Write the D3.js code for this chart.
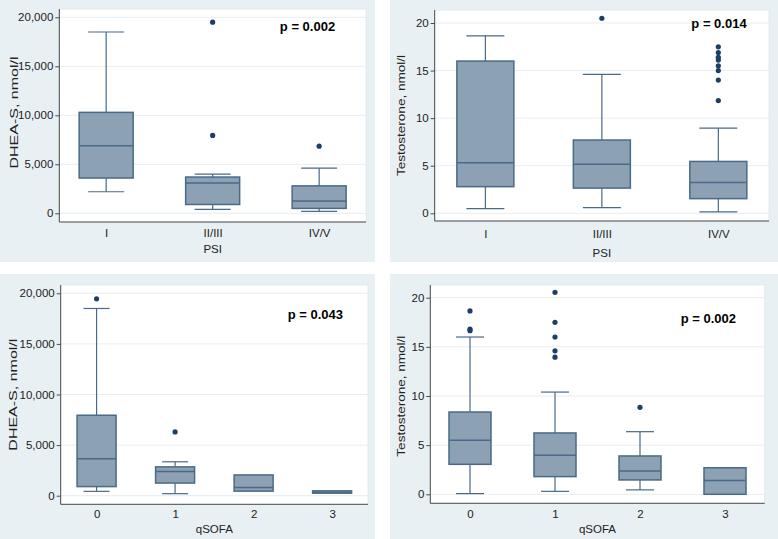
<!DOCTYPE html>
<html>
<head>
<meta charset="utf-8">
<script src="https://cdn.jsdelivr.net/npm/d3@7"></script>
<style>
  html, body { margin: 0; padding: 0; background: #ffffff; }
  svg { display: block; font-family: "Liberation Sans", Arial, Helvetica, sans-serif; }
</style>
</head>
<body>
<svg id="chart" width="778" height="539"></svg>
<script>
// ---------- DATA ----------
const psiCategories = ["I", "II/III", "IV/V"];
const qsofaCategories = ["0", "1", "2", "3"];

const dheaTicks = [0, 5000, 10000, 15000, 20000];
const testoTicks = [0, 5, 10, 15, 20];

// Panel A: DHEA-S by PSI
const dheaPsiLow    = [2200, 400, 200];
const dheaPsiQ1     = [3600, 900, 500];
const dheaPsiMedian = [6900, 3100, 1250];
const dheaPsiQ3     = [10300, 3700, 2800];
const dheaPsiHigh   = [18500, 4000, 4600];
const dheaPsiOutliers = [[], [19500, 7950], [6850]];

// Panel B: Testosterone by PSI
const testoPsiLow    = [0.5, 0.6, 0.14];
const testoPsiQ1     = [2.8, 2.65, 1.54];
const testoPsiMedian = [5.3, 5.15, 3.25];
const testoPsiQ3     = [16.0, 7.7, 5.45];
const testoPsiHigh   = [18.65, 14.6, 8.95];
const testoPsiOutliers = [[], [20.5], [17.5, 16.9, 16.4, 16.1, 15.5, 15.0, 14.0, 11.85]];

// Panel C: DHEA-S by qSOFA
const dheaQsofaLow    = [430, 200, 450, 250];
const dheaQsofaQ1     = [900, 1250, 450, 250];
const dheaQsofaMedian = [3650, 2400, 800, 350];
const dheaQsofaQ3     = [7950, 2850, 2050, 480];
const dheaQsofaHigh   = [18500, 3350, 2050, 480];
const dheaQsofaOutliers = [[19450], [6300], [], []];

// Panel D: Testosterone by qSOFA
const testoQsofaLow    = [0.07, 0.3, 0.45, 0.0];
const testoQsofaQ1     = [3.05, 1.8, 1.46, 0.0];
const testoQsofaMedian = [5.5, 3.97, 2.37, 1.4];
const testoQsofaQ3     = [8.37, 6.24, 3.9, 2.7];
const testoQsofaHigh   = [16.0, 10.4, 6.37, 2.7];
const testoQsofaOutliers = [[18.65, 16.8, 16.65], [20.55, 17.5, 16.0, 14.6, 13.95], [8.85], []];

const pValues = ["p = 0.002", "p = 0.014", "p = 0.043", "p = 0.002"];

// ---------- STYLE ----------
const panelBg = "#e9f0f3";
const boxFill = "#8ca1b3";
const boxStroke = "#4a6a87";
const dotColor = "#1e3f63";
const gridColor = "#e8edf1";
const axisColor = "#4a4a4a";
const textColor = "#222";
const fontSize = 11.5;

const svg = d3.select("#chart");

function build(cats, low, q1, med, q3, high, outs) {
  return cats.map((c, i) => ({ cat: c, low: low[i], q1: q1[i], med: med[i], q3: q3[i], high: high[i], outs: outs[i] }));
}

const panels = [
  {
    bg: [0, 0, 375, 262],
    plot: { x0: 59.3, x1: 366, top: 9, bottom: 222 },
    yRange: [213.3, 17.3], yMax: 20000, ticks: dheaTicks, fmt: d3.format(","),
    pad: 0.44, boxW: 54,
    rows: build(psiCategories, dheaPsiLow, dheaPsiQ1, dheaPsiMedian, dheaPsiQ3, dheaPsiHigh, dheaPsiOutliers),
    yTitle: "DHEA-S, nmol/l", yTitleX: 14, yTitleLen: 112, yTitleShift: -3, xTitle: "PSI", xTitleY: 253, xLabelPad: 7,
    p: pValues[0], pX: 307.5, pY: 31
  },
  {
    bg: [390, 0, 778, 262],
    plot: { x0: 434.7, x1: 769, top: 10, bottom: 221 },
    yRange: [213.3, 23], yMax: 20, ticks: testoTicks, fmt: d3.format("d"),
    pad: 0.435, boxW: 57,
    rows: build(psiCategories, testoPsiLow, testoPsiQ1, testoPsiMedian, testoPsiQ3, testoPsiHigh, testoPsiOutliers),
    yTitle: "Testosterone, nmol/l", yTitleX: 401, yTitleLen: 121, yTitleShift: 0, xTitle: "PSI", xTitleY: 256.5, xLabelPad: 9,
    p: pValues[1], pX: 719, pY: 27.5
  },
  {
    bg: [0, 274, 375, 539],
    plot: { x0: 60.7, x1: 368, top: 285, bottom: 504.3 },
    yRange: [495.7, 293.3], yMax: 20000, ticks: dheaTicks, fmt: d3.format(","),
    pad: 0.457, boxW: 39,
    rows: build(qsofaCategories, dheaQsofaLow, dheaQsofaQ1, dheaQsofaMedian, dheaQsofaQ3, dheaQsofaHigh, dheaQsofaOutliers),
    yTitle: "DHEA-S, nmol/l", yTitleX: 13, yTitleLen: 112, yTitleShift: 0, xTitle: "qSOFA", xTitleY: 533, xLabelPad: 5.5,
    p: pValues[2], pX: 315.3, pY: 319
  },
  {
    bg: [390, 274, 778, 539],
    plot: { x0: 430.3, x1: 764.7, top: 285, bottom: 503.3 },
    yRange: [494.3, 297.7], yMax: 20, ticks: testoTicks, fmt: d3.format("d"),
    pad: 0.467, boxW: 42,
    rows: build(qsofaCategories, testoQsofaLow, testoQsofaQ1, testoQsofaMedian, testoQsofaQ3, testoQsofaHigh, testoQsofaOutliers),
    yTitle: "Testosterone, nmol/l", yTitleX: 401, yTitleLen: 121, yTitleShift: 2, xTitle: "qSOFA", xTitleY: 533, xLabelPad: 6.5,
    p: pValues[3], pX: 708.3, pY: 322.7
  }
];

panels.forEach(P => {
  const g = svg.append("g");
  const pl = P.plot;

  // panel background
  g.append("rect")
    .attr("x", P.bg[0]).attr("y", P.bg[1])
    .attr("width", P.bg[2] - P.bg[0]).attr("height", P.bg[3] - P.bg[1])
    .attr("fill", panelBg);

  // plot region
  g.append("rect")
    .attr("x", pl.x0).attr("y", pl.top)
    .attr("width", pl.x1 - pl.x0).attr("height", pl.bottom - pl.top)
    .attr("fill", "#ffffff")
    .attr("stroke", "#dfe6ea").attr("stroke-width", 0.8);

  const y = d3.scaleLinear().domain([0, P.yMax]).range(P.yRange);
  const x = d3.scalePoint().domain(P.rows.map(d => d.cat)).range([pl.x0, pl.x1]).padding(P.pad);

  // gridlines
  g.append("g").selectAll("line").data(P.ticks).join("line")
    .attr("x1", pl.x0).attr("x2", pl.x1)
    .attr("y1", d => y(d)).attr("y2", d => y(d))
    .attr("stroke", gridColor).attr("stroke-width", 1);

  // y axis
  const yAxis = g.append("g")
    .attr("transform", `translate(${pl.x0},0)`)
    .call(d3.axisLeft(y).tickValues(P.ticks).tickFormat(P.fmt).tickSize(4).tickPadding(2));
  yAxis.select(".domain").remove();
  yAxis.selectAll(".tick line").attr("stroke", axisColor);
  yAxis.selectAll(".tick text").attr("fill", textColor).attr("font-size", fontSize).attr("font-family", null);

  // x axis
  const xAxis = g.append("g")
    .attr("transform", `translate(0,${pl.bottom})`)
    .call(d3.axisBottom(x).tickSize(0).tickPadding(P.xLabelPad));
  xAxis.select(".domain").remove();
  xAxis.selectAll(".tick text").attr("fill", textColor).attr("font-size", fontSize).attr("font-family", null);

  // axis lines
  g.append("line").attr("x1", pl.x0).attr("x2", pl.x0).attr("y1", pl.top).attr("y2", pl.bottom)
    .attr("stroke", axisColor).attr("stroke-width", 1);
  g.append("line").attr("x1", pl.x0).attr("x2", pl.x1).attr("y1", pl.bottom).attr("y2", pl.bottom)
    .attr("stroke", axisColor).attr("stroke-width", 1);

  // boxes
  const bw = P.boxW, cw = bw * 2 / 3;
  const box = g.append("g").selectAll("g").data(P.rows).join("g");
  // whiskers
  box.append("line")
    .attr("x1", d => x(d.cat)).attr("x2", d => x(d.cat))
    .attr("y1", d => y(d.q3)).attr("y2", d => y(d.high))
    .attr("stroke", boxStroke).attr("stroke-width", 1.2);
  box.append("line")
    .attr("x1", d => x(d.cat)).attr("x2", d => x(d.cat))
    .attr("y1", d => y(d.q1)).attr("y2", d => y(d.low))
    .attr("stroke", boxStroke).attr("stroke-width", 1.2);
  box.filter(d => d.high > d.q3).append("line")
    .attr("x1", d => x(d.cat) - cw / 2).attr("x2", d => x(d.cat) + cw / 2)
    .attr("y1", d => y(d.high)).attr("y2", d => y(d.high))
    .attr("stroke", boxStroke).attr("stroke-width", 1.2);
  box.filter(d => d.low < d.q1).append("line")
    .attr("x1", d => x(d.cat) - cw / 2).attr("x2", d => x(d.cat) + cw / 2)
    .attr("y1", d => y(d.low)).attr("y2", d => y(d.low))
    .attr("stroke", boxStroke).attr("stroke-width", 1.2);
  // box
  box.append("rect")
    .attr("x", d => x(d.cat) - bw / 2).attr("width", bw)
    .attr("y", d => y(d.q3)).attr("height", d => y(d.q1) - y(d.q3))
    .attr("fill", boxFill).attr("stroke", boxStroke).attr("stroke-width", 1.5);
  // median
  box.append("line")
    .attr("x1", d => x(d.cat) - bw / 2).attr("x2", d => x(d.cat) + bw / 2)
    .attr("y1", d => y(d.med)).attr("y2", d => y(d.med))
    .attr("stroke", boxStroke).attr("stroke-width", 1.5);
  // outliers
  box.selectAll("circle").data(d => d.outs.map(v => ({ cat: d.cat, v }))).join("circle")
    .attr("cx", d => x(d.cat)).attr("cy", d => y(d.v)).attr("r", 2.6)
    .attr("fill", dotColor);

  // titles
  g.append("text")
    .attr("transform", `translate(${P.yTitleX},${(pl.top + pl.bottom) / 2 + P.yTitleShift}) rotate(-90)`)
    .attr("text-anchor", "middle").attr("dy", "0.35em")
    .attr("font-size", fontSize).attr("fill", textColor)
    .attr("textLength", P.yTitleLen).attr("lengthAdjust", "spacingAndGlyphs")
    .text(P.yTitle);
  g.append("text")
    .attr("x", (pl.x0 + pl.x1) / 2).attr("y", P.xTitleY)
    .attr("text-anchor", "middle")
    .attr("font-size", fontSize).attr("fill", textColor)
    .text(P.xTitle);

  // p-value
  g.append("text")
    .attr("x", P.pX).attr("y", P.pY)
    .attr("text-anchor", "middle")
    .attr("font-size", 13).attr("font-weight", "bold").attr("fill", "#000")
    .text(P.p);
});
</script>
</body>
</html>
